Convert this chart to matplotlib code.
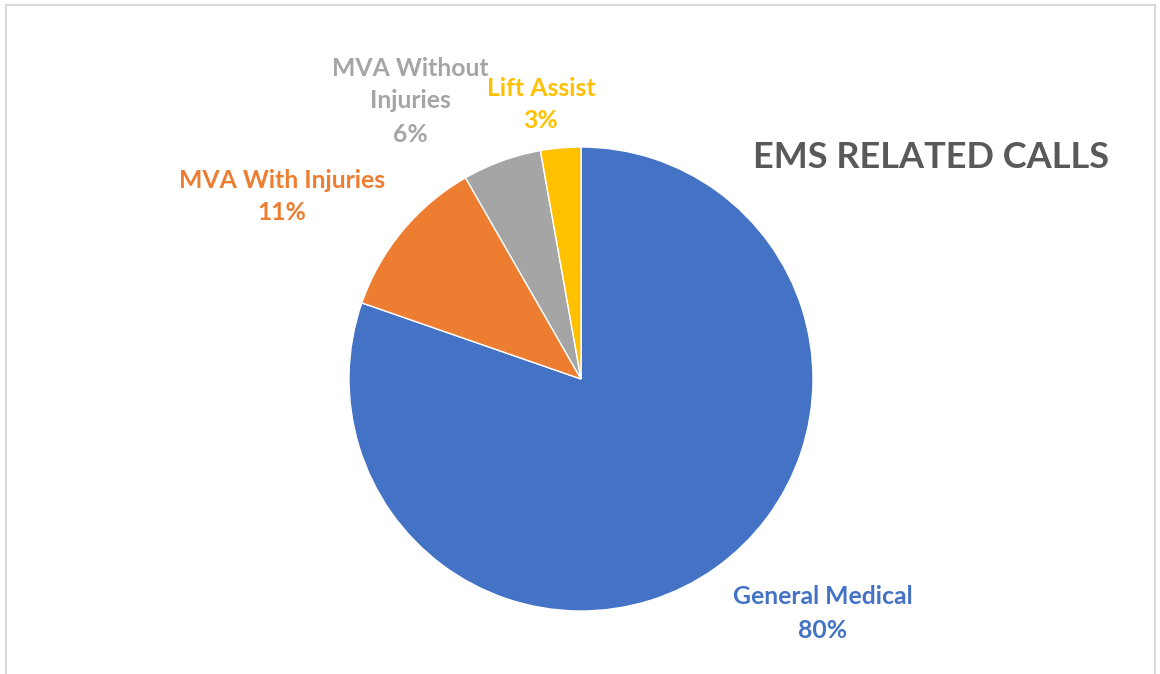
import matplotlib
matplotlib.use("Agg")
import matplotlib.pyplot as plt
from matplotlib.patches import Rectangle

categories = ["General Medical", "MVA With Injuries", "MVA Without Injuries", "Lift Assist"]
values = [80.4, 11.4, 5.5, 2.8]
pct_labels = ["80%", "11%", "6%", "3%"]
colors = ["#4472C4", "#ED7D31", "#A5A5A5", "#FFC000"]
title = "EMS RELATED CALLS"

W, H = 1160, 674
fig = plt.figure(figsize=(W / 100, H / 100), dpi=100)
ax = fig.add_axes([0, 0, 1, 1])

# chart border
ax.add_patch(Rectangle((6, -5), 1149, 674, fill=False, edgecolor="#D9D9D9", linewidth=1.5))

cx, cy, r = 581, H - 379, 232
wedges, _ = ax.pie(values, colors=colors, startangle=90, counterclock=False,
                   center=(cx, cy), radius=r, frame=True,
                   wedgeprops=dict(edgecolor="white", linewidth=1.0))
ax.set_xlim(0, W)
ax.set_ylim(0, H)
ax.axis("off")

font = "Lato"
fs = 17.8
label_pos = {
    "General Medical": (823, [597, 630]),
    "MVA With Injuries": (282, [180, 213]),
    "MVA Without Injuries": (410, [68, 101, 134]),
    "Lift Assist": (541, [88, 121]),
}
for cat, pct, col in zip(categories, pct_labels, colors):
    x, ys = label_pos[cat]
    if cat == "MVA Without Injuries":
        lines = ["MVA Without", "Injuries", pct]
    else:
        lines = [cat, pct]
    for line, y in zip(lines, ys):
        ax.text(x, H - y, line, ha="center", va="center", fontsize=fs,
                fontweight="bold", color=col, family=font)

ax.text(931, H - 158, title, ha="center", va="center", fontsize=26,
        fontweight="bold", color="#595959", family=font)

fig.savefig("out.png", dpi=100)
